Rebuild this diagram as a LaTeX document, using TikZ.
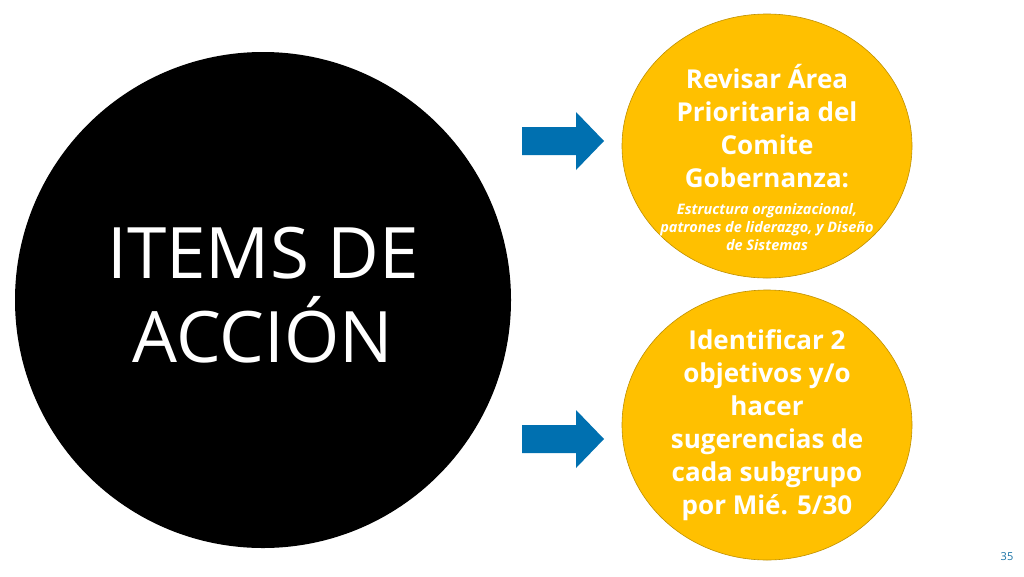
\documentclass[tikz,border=0pt]{standalone}
\usepackage{fontspec}
\setmainfont{Open Sans}
\definecolor{gold}{HTML}{FFC000}
\definecolor{goldedge}{HTML}{BF9000}
\definecolor{arrblue}{HTML}{0070B0}
\begin{document}
\begin{tikzpicture}[x=1pt,y=-1pt,
  bigtxt/.style={text=white,font=\bfseries\fontsize{26}{33}\selectfont,align=center}]
\useasboundingbox (0,0) rectangle (1024,576);
\fill[white] (0,0) rectangle (1024,576);
\node[circle,fill=black,minimum size=496pt,inner sep=0pt] (big) at (263,300) {};
\node[text=white,font=\fontsize{71}{84}\selectfont,align=center] (bt) at (263,295) {ITEMS DE\\ACCIÓN};
\foreach \yy/\nm in {141/a1,439/a2}{
  \fill[arrblue] (522,\yy-14) -- (576,\yy-14) -- (576,\yy-29) -- (604,\yy) -- (576,\yy+29) -- (576,\yy+14) -- (522,\yy+14) -- cycle;
  \coordinate (\nm) at (563,\yy);
}
\fill[gold,draw=goldedge,line width=0.6pt] (767,146) ellipse (145 and 132);
\node (e1) at (767,146) {};
\node[bigtxt] (t1) at (767,126) {Revisar Área\\Prioritaria del\\Comite\\Gobernanza:};
\node[text=white,font=\bfseries\itshape\fontsize{14.5}{18}\selectfont,align=center] (t1b) at (767,227) {Estructura organizacional,\\patrones de liderazgo, y Diseño\\de Sistemas};
\fill[gold,draw=goldedge,line width=0.6pt] (767,425) ellipse (145 and 135);
\node (e2) at (767,425) {};
\node[bigtxt] (t2) at (767,425) {Identificar 2\\objetivos y/o\\hacer\\sugerencias de\\cada subgrupo\\por Mié. 5/30};
\node[text=arrblue!80!gray,font=\fontsize{11}{12}\selectfont] (pg) at (1007,557) {35};
\end{tikzpicture}
\end{document}
